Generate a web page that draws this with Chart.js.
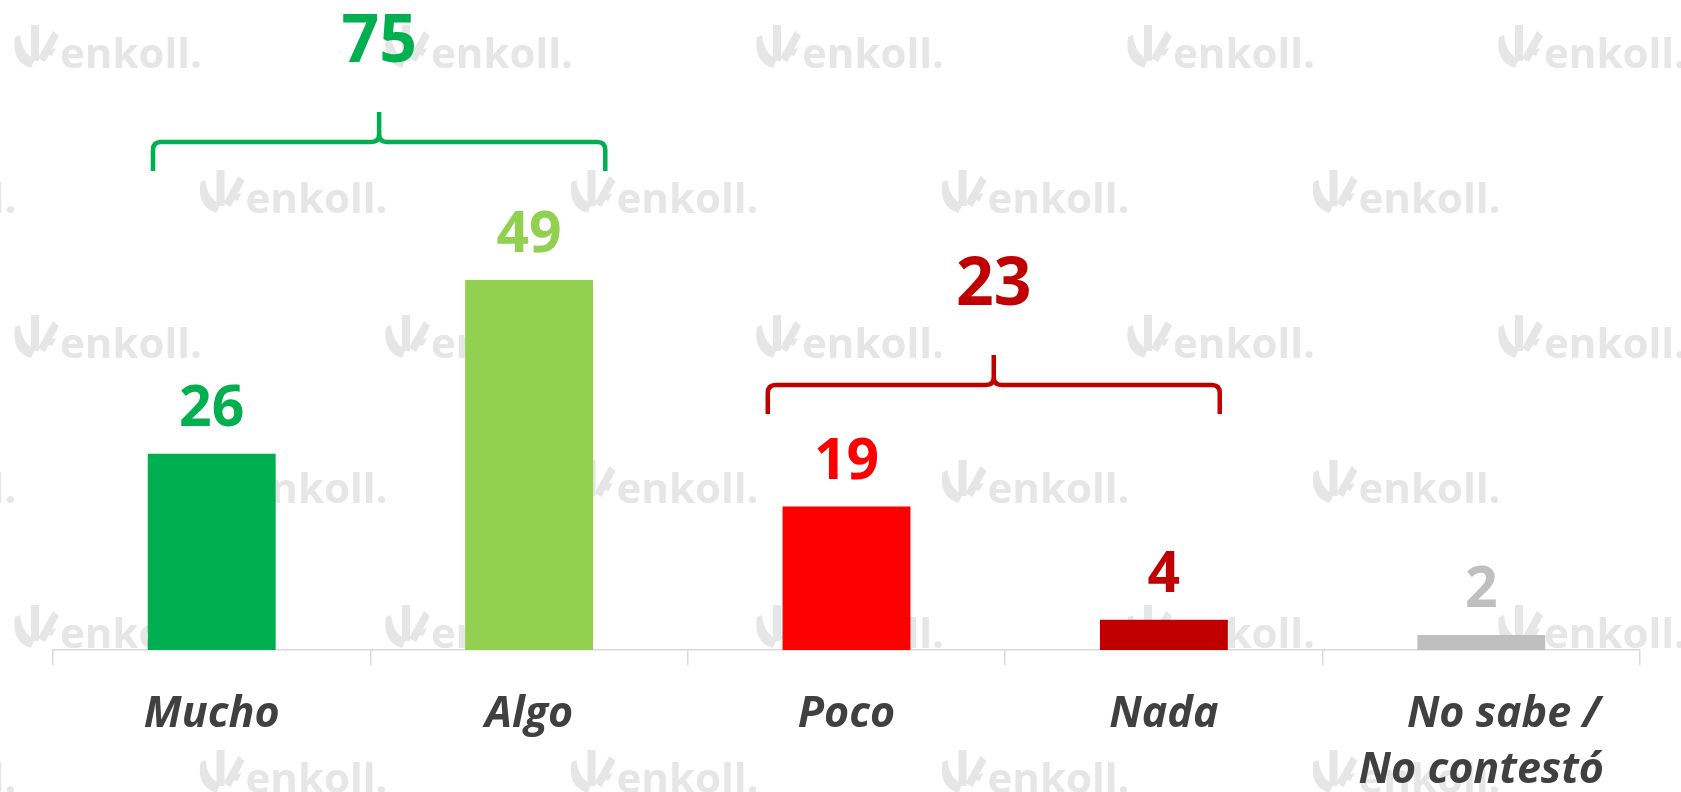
<!DOCTYPE html>
<html>
<head>
<meta charset="utf-8">
<script src="https://cdn.jsdelivr.net/npm/chart.js@4.4.1/dist/chart.umd.min.js"></script>
<style>
  html, body { margin: 0; padding: 0; background: #ffffff; }
  #wrap { width: 1681px; height: 792px; position: relative; }
</style>
</head>
<body>
<div id="wrap"><canvas id="c" width="1681" height="792"></canvas></div>
<script>
// ---- data ----
const categories = ['Mucho', 'Algo', 'Poco', 'Nada', ['    No sabe /', 'No contestó']];
const values = [26, 49, 19, 4, 2];
// groups summed under a bracket (indexes into values)
const positiveGroup = [0, 1];
const negativeGroup = [2, 3];

// ---- styles ----
const barColors = ['#00B050', '#92D050', '#FF0000', '#C00000', '#BFBFBF'];
const FONT = "'Open Sans', 'Noto Sans', sans-serif";

const watermarkPlugin = {
  id: 'watermark',
  beforeDraw(chart) {
    const ctx = chart.ctx;
    ctx.save();
    ctx.fillStyle = '#e6e6e6';
    ctx.font = "bold 42px " + FONT;
    ctx.textBaseline = 'alphabetic';
    ctx.textAlign = 'left';
    const stepX = 371, stepY = 145;
    for (let r = 0; r < 6; r++) {
      const by = 68 + r * stepY;
      const off = (r % 2 === 0) ? 60 : 60 + stepX / 2;
      for (let c = -1; c < 6; c++) {
        const tx = off + c * stepX;
        // icon
        ctx.beginPath();
        ctx.moveTo(tx - 45, by - 31);
        ctx.quadraticCurveTo(tx - 49, by - 6, tx - 29, by);
        ctx.lineTo(tx - 25, by - 9);
        ctx.quadraticCurveTo(tx - 38, by - 14, tx - 40, by - 33);
        ctx.closePath();
        ctx.fill();
        ctx.fillRect(tx - 29, by - 43, 8, 36);
        ctx.beginPath();
        ctx.moveTo(tx - 7, by - 37);
        ctx.lineTo(tx - 1, by - 32);
        ctx.lineTo(tx - 15, by - 6);
        ctx.lineTo(tx - 22, by - 10);
        ctx.closePath();
        ctx.fill();
        ctx.beginPath();
        ctx.moveTo(tx - 20, by - 16);
        ctx.lineTo(tx - 4, by - 20);
        ctx.lineTo(tx - 8, by - 12);
        ctx.closePath();
        ctx.fill();
        ctx.fillText('enkoll.', tx, by);
      }
    }
    ctx.restore();
  }
};

const valueLabelPlugin = {
  id: 'valueLabels',
  afterDatasetsDraw(chart) {
    const ctx = chart.ctx;
    const meta = chart.getDatasetMeta(0);
    ctx.save();
    ctx.font = "bold 57px " + FONT;
    ctx.textAlign = 'center';
    ctx.textBaseline = 'alphabetic';
    meta.data.forEach((bar, i) => {
      ctx.fillStyle = barColors[i];
      ctx.fillText(String(values[i]), bar.x, bar.y - 28);
    });
    ctx.restore();
  }
};

const bracketPlugin = {
  id: 'brackets',
  afterDatasetsDraw(chart, args, opts) {
    const ctx = chart.ctx;
    const xs = chart.scales.x, ys = chart.scales.y;
    (opts.items || []).forEach(item => {
      const total = item.group.reduce((s, i) => s + values[i], 0);
      const x0 = xs.getPixelForValue(item.from);
      const x1 = xs.getPixelForValue(item.to);
      const xc = (x0 + x1) / 2;
      const yh = ys.getPixelForValue(item.level);
      const yb = yh + 29, yt = yh - 30, r = 8;
      ctx.save();
      ctx.strokeStyle = item.color;
      ctx.lineWidth = 4.5;
      ctx.lineCap = 'butt';
      ctx.lineJoin = 'round';
      ctx.beginPath();
      ctx.moveTo(x0, yb);
      ctx.lineTo(x0, yh + r);
      ctx.quadraticCurveTo(x0, yh, x0 + r, yh);
      ctx.lineTo(xc - r, yh);
      ctx.quadraticCurveTo(xc, yh, xc, yh - r);
      ctx.lineTo(xc, yt);
      ctx.moveTo(xc, yh - r);
      ctx.quadraticCurveTo(xc, yh, xc + r, yh);
      ctx.lineTo(x1 - r, yh);
      ctx.quadraticCurveTo(x1, yh, x1, yh + r);
      ctx.lineTo(x1, yb);
      ctx.stroke();
      ctx.fillStyle = item.color;
      ctx.font = "bold 66px " + FONT;
      ctx.textAlign = 'center';
      ctx.textBaseline = 'alphabetic';
      ctx.fillText(String(total), xc, yt - 50);
      ctx.restore();
    });
  }
};

new Chart(document.getElementById('c'), {
  type: 'bar',
  data: {
    labels: categories,
    datasets: [{
      data: values,
      backgroundColor: barColors,
      borderWidth: 0,
      barPercentage: 0.403,
      categoryPercentage: 1.0
    }]
  },
  options: {
    responsive: false,
    animation: false,
    events: [],
    layout: { padding: { left: 53, right: 41, top: 46, bottom: 0 } },
    plugins: {
      legend: { display: false },
      tooltip: { enabled: false },
      brackets: {
        items: [
          { group: positiveGroup, from: -0.185, to: 1.24, level: 67.3, color: '#00B050' },
          { group: negativeGroup, from: 1.752, to: 3.176, level: 35.1, color: '#C00000' }
        ]
      }
    },
    scales: {
      x: {
        grid: {
          display: true, drawOnChartArea: false, drawTicks: true,
          tickLength: 15, color: '#d9d9d9', lineWidth: 1.5, offset: true
        },
        border: { display: true, color: '#d9d9d9', width: 1.5 },
        ticks: {
          color: '#404040',
          font: { family: FONT, size: 43, weight: 'bold', style: 'italic', lineHeight: 1.3 },
          padding: 22, maxRotation: 0, autoSkip: false
        },
        afterFit(scale) { scale.height = 142; }
      },
      y: { display: false, min: 0, max: 80 }
    }
  },
  plugins: [watermarkPlugin, valueLabelPlugin, bracketPlugin]
});
</script>
</body>
</html>
